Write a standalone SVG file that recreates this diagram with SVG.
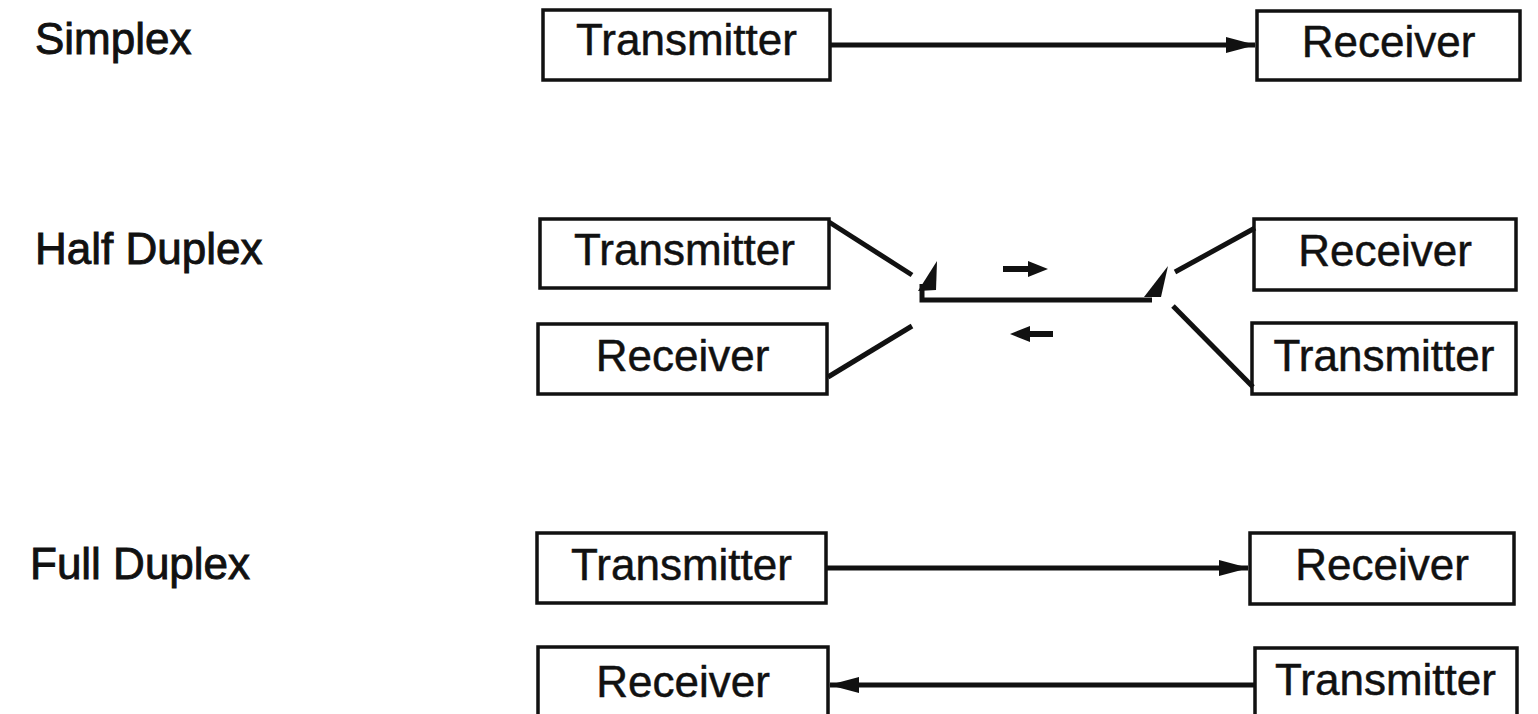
<svg xmlns="http://www.w3.org/2000/svg" width="1538" height="714" viewBox="0 0 1538 714">
<defs>
<style>
.box{fill:#fff;stroke:#111;stroke-width:3.5}
.t{font-family:"Liberation Sans",Arial,sans-serif;font-size:44px;fill:#111;stroke:#111;stroke-width:0.5;text-anchor:middle}
.lbl{font-family:"Liberation Sans",Arial,sans-serif;font-size:44px;fill:#111;stroke:#111;stroke-width:0.9}
.ln{stroke:#111;stroke-width:5;fill:none}
.ah{fill:#111}
</style>
<marker id="arr" markerWidth="30" markerHeight="18" refX="29" refY="9" orient="auto" markerUnits="userSpaceOnUse">
<path d="M0,1 L30,9 L0,17 z" fill="#111"/>
</marker>
</defs>
<rect width="1538" height="714" fill="#fff"/>
<g id="labels">
<text class="lbl" x="35" y="54">Simplex</text>
<text class="lbl" x="35" y="264">Half Duplex</text>
<text class="lbl" x="30" y="579">Full Duplex</text>
</g>
<g id="s-tx"><rect class="box" x="543" y="10" width="287" height="70"/><text class="t" x="686.5" y="55">Transmitter</text></g>
<g id="s-rx"><rect class="box" x="1257" y="11" width="263" height="69"/><text class="t" x="1388.5" y="57">Receiver</text></g>
<g id="h-tx-l"><rect class="box" x="540" y="219" width="289" height="69"/><text class="t" x="684.5" y="265">Transmitter</text></g>
<g id="h-rx-l"><rect class="box" x="538" y="324" width="289" height="70"/><text class="t" x="682.5" y="371">Receiver</text></g>
<g id="h-rx-r"><rect class="box" x="1254" y="219" width="262" height="71"/><text class="t" x="1385" y="266">Receiver</text></g>
<g id="h-tx-r"><rect class="box" x="1252" y="323" width="264" height="71"/><text class="t" x="1384" y="371">Transmitter</text></g>
<g id="f-tx-l"><rect class="box" x="537" y="533" width="289" height="70"/><text class="t" x="681.5" y="580">Transmitter</text></g>
<g id="f-rx-r"><rect class="box" x="1250" y="533" width="264" height="71"/><text class="t" x="1382" y="580">Receiver</text></g>
<g id="f-rx-l"><rect class="box" x="538" y="647" width="290" height="80"/><text class="t" x="683" y="697">Receiver</text></g>
<g id="f-tx-r"><rect class="box" x="1255" y="648" width="262" height="80"/><text class="t" x="1385.5" y="695">Transmitter</text></g>
<g id="connectors">
<line class="ln" x1="831" y1="45" x2="1255" y2="45" marker-end="url(#arr)"/>
<line class="ln" x1="827" y1="568" x2="1248" y2="568" marker-end="url(#arr)"/>
<line class="ln" x1="1254" y1="685" x2="830" y2="685" marker-end="url(#arr)"/>
<line class="ln" x1="829" y1="222" x2="912" y2="275"/>
<line class="ln" x1="828" y1="377" x2="912" y2="326"/>
<line class="ln" x1="1175" y1="272" x2="1255" y2="228"/>
<line class="ln" x1="1173" y1="306" x2="1253" y2="387"/>
<path class="ln" d="M1152,300 L922,300 L922,284"/>
<path class="ah" d="M937,261 L918,291 L936,290 z"/>
<path class="ah" d="M1168,266 L1144,297 L1161,297 z"/>
<path class="ah" d="M1003,266 L1028,266 L1028,261 L1048,269 L1028,277 L1028,272 L1003,272 z"/>
<path class="ah" d="M1053,331 L1030,331 L1030,326 L1010,334 L1030,342 L1030,337 L1053,337 z"/>
</g>
</svg>
